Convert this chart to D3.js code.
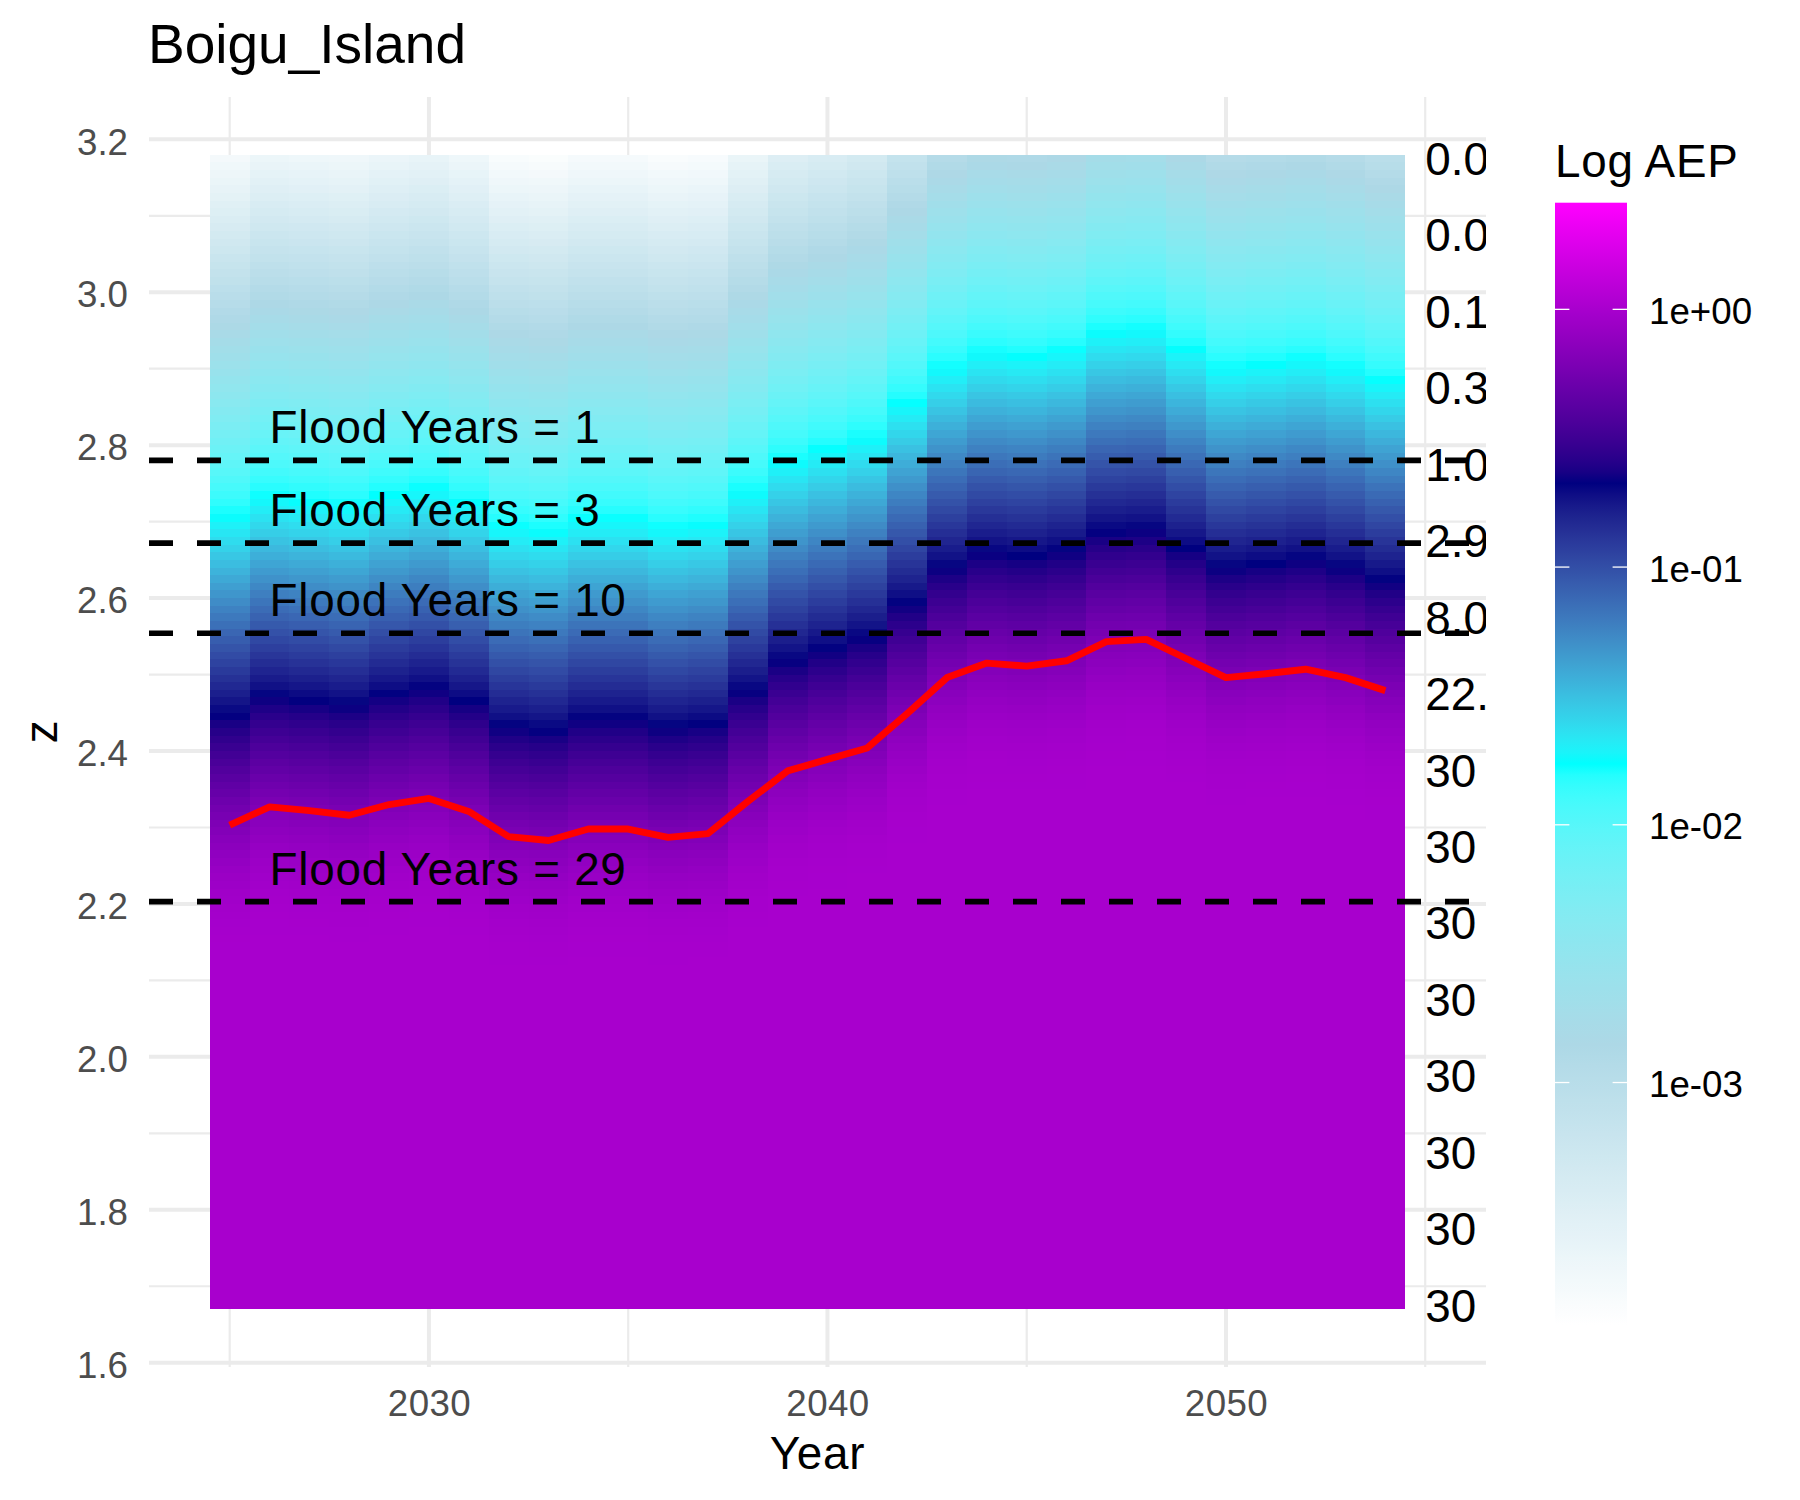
<!DOCTYPE html>
<html>
<head>
<meta charset="utf-8">
<script src="https://cdn.jsdelivr.net/npm/d3@7"></script>
<style>
  body { margin: 0; background: #fff; }
  svg text { font-family: "Liberation Sans", Arial, sans-serif; }
</style>
</head>
<body>
<svg id="chart" width="1800" height="1500"></svg>
<script>
// ---------------- data ----------------
const chartTitle = "Boigu_Island";
const years = [2025, 2026, 2027, 2028, 2029, 2030, 2031, 2032, 2033, 2034,
               2035, 2036, 2037, 2038, 2039, 2040, 2041, 2042, 2043, 2044,
               2045, 2046, 2047, 2048, 2049, 2050, 2051, 2052, 2053, 2054];
// red line: yearly water level (also the location of the yearly AEP profile)
const yearLevel = [2.303, 2.327, 2.322, 2.316, 2.330, 2.338, 2.321, 2.288, 2.283, 2.298,
                   2.298, 2.287, 2.292, 2.334, 2.374, 2.389, 2.404, 2.449, 2.496, 2.515,
                   2.511, 2.518, 2.543, 2.546, 2.521, 2.496, 2.501, 2.507, 2.496, 2.479];
// spread of the yearly AEP profile (m)
const profileSpread = 0.1;
// heat-map rows (z levels): first row centre, row step, row count
const zRowFirst = 1.675, zRowStep = 0.01, zRowCount = 151;

const floodYears = [1, 3, 10, 29];
const floodZ = [2.780, 2.672, 2.554, 2.203];

const sideLabelZ = [3.175, 3.075, 2.975, 2.875, 2.775, 2.675, 2.575, 2.475,
                    2.375, 2.275, 2.175, 2.075, 1.975, 1.875, 1.775, 1.675];
const sideLabels = ["0.0", "0.0", "0.1", "0.3", "1.0", "2.9", "8.0", "22.",
                    "30", "30", "30", "30", "30", "30", "30", "30"];

const yMajorTicks = [1.6, 1.8, 2.0, 2.2, 2.4, 2.6, 2.8, 3.0, 3.2];
const yMinorTicks = [1.7, 1.9, 2.1, 2.3, 2.5, 2.7, 2.9, 3.1];
const xMajorTicks = [2030, 2040, 2050];
const xMinorTicks = [2025, 2035, 2045, 2055];

const legendTicks = [1, 0.1, 0.01, 0.001];
const legendTickLabels = ["1e+00", "1e-01", "1e-02", "1e-03"];
const aepLimits = [1.146e-4, 2.593];
const colourStops = ["white", "lightblue", "cyan", "navy", "magenta"];

// ---------------- layout ----------------
const svg = d3.select("#chart");
svg.append("rect").attr("width", 1800).attr("height", 1500).attr("fill", "#fff");

const panel = { left: 149, right: 1486, top: 96.9, bottom: 1366.9 };
const xData = [2024.5, 2055];
const xPad = 0.05 * (xData[1] - xData[0]);
const x = d3.scaleLinear().domain([xData[0] - xPad, xData[1] + xPad]).range([panel.left, panel.right]);
const zData = [zRowFirst - zRowStep / 2, zRowFirst + (zRowCount - 0.5) * zRowStep];
const zPad = 0.05 * (zData[1] - zData[0]);
const y = d3.scaleLinear().domain([zData[0] - zPad, zData[1] + zPad]).range([panel.bottom, panel.top]);

const logMin = Math.log10(aepLimits[0]), logMax = Math.log10(aepLimits[1]);
const colour = d3.scaleLinear()
  .domain(colourStops.map((c, i) => logMin + i * (logMax - logMin) / (colourStops.length - 1)))
  .range(colourStops)
  .interpolate(d3.interpolateLab)
  .clamp(true);

svg.append("defs").append("clipPath").attr("id", "panelClip")
  .append("rect").attr("x", panel.left).attr("y", panel.top)
  .attr("width", panel.right - panel.left).attr("height", panel.bottom - panel.top);

// ---------------- grid ----------------
const grid = svg.append("g");
grid.selectAll(".ymin").data(yMinorTicks).join("line")
  .attr("x1", panel.left).attr("x2", panel.right)
  .attr("y1", d => y(d)).attr("y2", d => y(d))
  .attr("stroke", "#EBEBEB").attr("stroke-width", 2.2);
grid.selectAll(".xmin").data(xMinorTicks).join("line")
  .attr("y1", panel.top).attr("y2", panel.bottom)
  .attr("x1", d => x(d)).attr("x2", d => x(d))
  .attr("stroke", "#EBEBEB").attr("stroke-width", 2.2);
grid.selectAll(".ymaj").data(yMajorTicks).join("line")
  .attr("x1", panel.left).attr("x2", panel.right)
  .attr("y1", d => y(d)).attr("y2", d => y(d))
  .attr("stroke", "#EBEBEB").attr("stroke-width", 4);
grid.selectAll(".xmaj").data(xMajorTicks).join("line")
  .attr("y1", panel.top).attr("y2", panel.bottom)
  .attr("x1", d => x(d)).attr("x2", d => x(d))
  .attr("stroke", "#EBEBEB").attr("stroke-width", 4);

// ---------------- heat map ----------------
const cells = [];
years.forEach((yr, i) => {
  for (let r = 0; r < zRowCount; r++) {
    const z = zRowFirst + r * zRowStep;
    const rate = Math.exp(-(z - yearLevel[i]) / profileSpread);
    const aep = -Math.expm1(-rate);
    cells.push({ year: yr, z: z, logAep: Math.log10(aep) });
  }
});
const pg = svg.append("g").attr("clip-path", "url(#panelClip)");
pg.append("g").attr("shape-rendering", "crispEdges")
  .selectAll("rect").data(cells).join("rect")
  .attr("x", d => x(d.year - 0.5))
  .attr("width", d => x(d.year + 0.5) - x(d.year - 0.5))
  .attr("y", d => y(d.z + zRowStep / 2))
  .attr("height", d => y(d.z - zRowStep / 2) - y(d.z + zRowStep / 2))
  .attr("fill", d => colour(d.logAep));

// red line
pg.append("path")
  .datum(years.map((yr, i) => [yr, yearLevel[i]]))
  .attr("d", d3.line().x(d => x(d[0])).y(d => y(d[1])))
  .attr("fill", "none").attr("stroke", "#FF0000").attr("stroke-width", 6.9)
  .attr("stroke-linejoin", "round").attr("stroke-linecap", "butt");

// flood threshold lines
pg.selectAll(".flood").data(floodZ).join("line")
  .attr("x1", panel.left).attr("x2", panel.right)
  .attr("y1", d => y(d)).attr("y2", d => y(d))
  .attr("stroke", "#000").attr("stroke-width", 5.7)
  .attr("stroke-dasharray", "24,24");

pg.selectAll(".floodText").data(floodZ).join("text")
  .attr("x", x(2026)).attr("y", d => y(d) - 17)
  .attr("font-size", 45.8).attr("letter-spacing", 0.75).attr("fill", "#000")
  .text((d, i) => "Flood Years = " + floodYears[i]);

// side labels (clipped by the panel like the reference)
pg.selectAll(".side").data(sideLabelZ).join("text")
  .attr("x", x(2055)).attr("y", d => y(d) + 16.4)
  .attr("font-size", 45.8).attr("fill", "#000")
  .text((d, i) => sideLabels[i]);

// ---------------- axes ----------------
const yAxis = svg.append("g").attr("transform", `translate(${panel.left},0)`)
  .call(d3.axisLeft(y).tickValues(yMajorTicks).tickFormat(d3.format(".1f")).tickSize(0).tickPadding(21));
yAxis.select(".domain").remove();
yAxis.selectAll("text").attr("font-size", 36.7).attr("fill", "#4D4D4D")
  .attr("font-family", "Liberation Sans, Arial, sans-serif").attr("dy", "0.4em");

const xAxis = svg.append("g").attr("transform", `translate(0,${panel.bottom})`)
  .call(d3.axisBottom(x).tickValues(xMajorTicks).tickFormat(d3.format("d")).tickSize(0).tickPadding(22.8));
xAxis.select(".domain").remove();
xAxis.selectAll("text").attr("font-size", 36.7).attr("fill", "#4D4D4D").attr("letter-spacing", 0.4)
  .attr("font-family", "Liberation Sans, Arial, sans-serif");

svg.append("text").attr("x", (panel.left + panel.right) / 2).attr("y", 1469)
  .attr("text-anchor", "middle").attr("font-size", 45.8).attr("letter-spacing", 0.75)
  .attr("fill", "#000").text("Year");
svg.append("text").attr("transform", `translate(57,${(panel.top + panel.bottom) / 2}) rotate(-90)`)
  .attr("text-anchor", "middle").attr("font-size", 45.8).attr("fill", "#000").text("z");

svg.append("text").attr("x", 148).attr("y", 63.3)
  .attr("font-size", 55).attr("fill", "#000").text(chartTitle);

// ---------------- legend ----------------
const bar = { x: 1555, w: 72, top: 202.7, bottom: 1325 };
const ly = d3.scaleLog().domain(aepLimits).range([bar.bottom, bar.top]);
const grad = svg.select("defs").append("linearGradient").attr("id", "aepGrad")
  .attr("x1", 0).attr("x2", 0).attr("y1", 1).attr("y2", 0);
d3.range(0, 101).forEach(k => {
  const t = k / 100;
  grad.append("stop").attr("offset", t).attr("stop-color", colour(logMin + t * (logMax - logMin)));
});
svg.append("rect").attr("x", bar.x).attr("y", bar.top).attr("width", bar.w)
  .attr("height", bar.bottom - bar.top).attr("fill", "url(#aepGrad)");
const tickLen = 14.4;
svg.selectAll(".ltl").data(legendTicks).join("line")
  .attr("x1", bar.x).attr("x2", bar.x + tickLen)
  .attr("y1", d => ly(d)).attr("y2", d => ly(d))
  .attr("stroke", "#fff").attr("stroke-width", 1.3);
svg.selectAll(".ltr").data(legendTicks).join("line")
  .attr("x1", bar.x + bar.w - tickLen).attr("x2", bar.x + bar.w)
  .attr("y1", d => ly(d)).attr("y2", d => ly(d))
  .attr("stroke", "#fff").attr("stroke-width", 1.3);
const lAxis = svg.append("g").attr("transform", `translate(${bar.x + bar.w},0)`)
  .call(d3.axisRight(ly).tickValues(legendTicks)
    .tickFormat(d => legendTickLabels[legendTicks.indexOf(d)]).tickSize(0).tickPadding(22));
lAxis.select(".domain").remove();
lAxis.selectAll("text").attr("font-size", 36.7).attr("fill", "#000")
  .attr("font-family", "Liberation Sans, Arial, sans-serif").attr("dy", "0.38em");
svg.append("text").attr("x", bar.x).attr("y", 176.7)
  .attr("font-size", 45.8).attr("letter-spacing", 0.75).attr("fill", "#000").text("Log AEP");
</script>
</body>
</html>
